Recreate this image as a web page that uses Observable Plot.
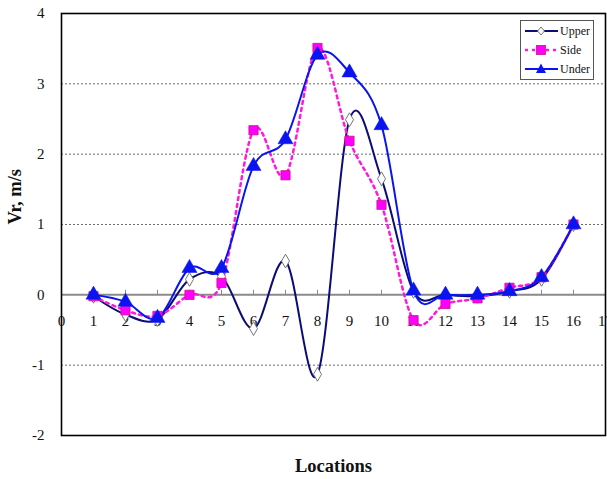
<!DOCTYPE html>
<html><head><meta charset="utf-8">
<script src="https://cdn.jsdelivr.net/npm/d3@7"></script>
<script src="https://cdn.jsdelivr.net/npm/@observablehq/plot@0.6"></script>
<style>
body{margin:0;background:#fff;}
#wrap{position:relative;width:607px;height:479px;font-family:"Liberation Serif","DejaVu Serif",serif;}
#legend{position:absolute;left:520px;top:20px;width:74px;height:60px;border:1px solid #555;background:#fff;box-sizing:border-box;font-size:12px;}
#legend .row{position:absolute;left:3px;height:16px;display:flex;align-items:center;}
#legend svg{display:block}
</style></head>
<body><div id="wrap"><div id="chart"></div><div id="legend"></div></div>
<script>
const locations = [1,2,3,4,5,6,7,8,9,10,11,12,13,14,15,16];
const upper = [-0.02,-0.28,-0.35,0.22,0.26,-0.48,0.48,-1.13,2.49,1.65,0.05,0.0,-0.02,0.05,0.22,1.0];
const side  = [-0.02,-0.22,-0.30,0.00,0.17,2.34,1.70,3.51,2.19,1.28,-0.36,-0.13,-0.05,0.10,0.25,1.0];
const under = [0.0,-0.10,-0.33,0.38,0.38,1.83,2.21,3.41,3.16,2.41,0.06,0.0,0.0,0.05,0.25,1.0];
const xTicks = [0,1,2,3,4,5,6,7,8,9,10,11,12,13,14,15,16,17];
const yTicks = [-2,-1,0,1,2,3,4];
const gridY = [-1,1,2,3];
const seriesNames = ["Upper","Side","Under"];

const rows = (vals) => locations.map((x,i)=>({x, y: vals[i]}));
const U = rows(upper), S = rows(side), D = rows(under);
const font = "Liberation Serif";

const chart = Plot.plot({
  width: 607, height: 479,
  marginLeft: 61, marginRight: 2, marginTop: 13, marginBottom: 44,
  style: {fontFamily: font, background: "white"},
  x: {domain: [0,17], axis: null},
  y: {domain: [-2,4], axis: null},
  marks: [
    Plot.ruleY(gridY, {stroke: "#444", strokeWidth: 0.8, strokeDasharray: "2,2"}),
    Plot.ruleY([0], {stroke: "#8a8a8a", strokeWidth: 2}),
    Plot.ruleX(xTicks, {x: d=>d, y1: 0, y2: 0.065, stroke: "#8a8a8a", strokeWidth: 1}),
    Plot.text(xTicks, {x: d=>d, y: 0, dy: 26, text: d=>String(d), fontSize: 15, fill: "#111"}),
    Plot.text(yTicks, {y: d=>d, frameAnchor: "left", dx: -17, textAnchor: "end", text: d=>String(d), fontSize: 15, fill: "#111"}),
    Plot.line(U, {x:"x", y:"y", curve:"catmull-rom", tension:0, stroke:"#0c0c78", strokeWidth:2}),
    Plot.line(S, {x:"x", y:"y", curve:"catmull-rom", tension:0, stroke:"#ff1ad9", strokeWidth:2.5, strokeDasharray:"3,4"}),
    Plot.line(D, {x:"x", y:"y", curve:"catmull-rom", tension:0, stroke:"#0a14f0", strokeWidth:2}),
    Plot.dot(U, {x:"x", y:"y", symbol:"diamond", r:4.2, fill:"white", stroke:"#666", strokeWidth:0.9}),
    Plot.dot(S, {x:"x", y:"y", symbol:"square", r:5.2, fill:"#ff00ff", stroke:"#c8157e", strokeWidth:0.8}),
    Plot.dot(D, {x:"x", y:"y", symbol:"triangle", r:5.6, fill:"#0a14f0", stroke:"#0a14f0", strokeWidth:0.5}),
    Plot.frame({stroke: "black", strokeWidth: 1.6}),
    Plot.text(["Vr, m/s"], {frameAnchor: "left", dx: -46, rotate: -90, text: d=>d, fontSize: 18.5, fontWeight: "bold", fill: "#111"}),
    Plot.text(["Locations"], {frameAnchor: "bottom", dy: 36, text: d=>d, fontSize: 18.5, fontWeight: "bold", fill: "#111"})
  ]
});
document.getElementById("chart").appendChild(chart);

// legend
const legend = document.getElementById("legend");
const styles = [
  {stroke:"#0c0c78", dash:null, w:2, sym:"diamond"},
  {stroke:"#ff1ad9", dash:"3,4", w:2.5, sym:"square"},
  {stroke:"#0a14f0", dash:null, w:2, sym:"triangle"}
];
seriesNames.forEach((name,i)=>{
  const st = styles[i];
  const row = document.createElement("div");
  row.className = "row";
  row.style.top = (2 + i*19) + "px";
  let sym = "";
  if (st.sym==="diamond") sym = `<path d="M17,4 L20.5,8 L17,12 L13.5,8 Z" fill="white" stroke="#666" stroke-width="0.9"/>`;
  if (st.sym==="square") sym = `<rect x="12.5" y="3.5" width="9" height="9" fill="#ff00ff" stroke="#c8157e" stroke-width="0.8"/>`;
  if (st.sym==="triangle") sym = `<path d="M17,2.5 L22,12 L12,12 Z" fill="#0a14f0"/>`;
  row.innerHTML = `<svg width="35" height="16"><line x1="1" x2="34" y1="8" y2="8" stroke="${st.stroke}" stroke-width="${st.w}" ${st.dash?`stroke-dasharray="${st.dash}"`:""}/>${sym}</svg><span style="margin-left:1px;color:#111">${name}</span>`;
  legend.appendChild(row);
});
</script>
</body></html>
